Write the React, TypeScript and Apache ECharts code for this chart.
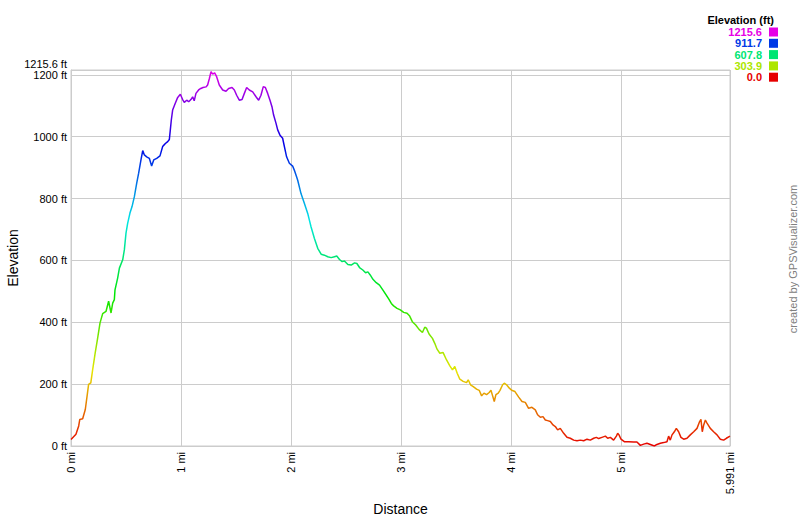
import React, { useEffect, useRef } from 'react';
import * as echarts from 'echarts';

// Distance along the track (mi)
const distances = [
  0, 0.045, 0.07, 0.08, 0.106, 0.13, 0.15, 0.16, 0.18, 0.197, 0.22, 0.24, 0.264, 0.288, 0.318, 0.342,
  0.364, 0.379, 0.394, 0.4, 0.424, 0.44, 0.47, 0.485, 0.5, 0.515, 0.536, 0.555, 0.576, 0.597, 0.615,
  0.636, 0.652, 0.667, 0.688, 0.712, 0.733, 0.752, 0.779, 0.809, 0.833, 0.858, 0.879, 0.894, 0.903,
  0.912, 0.924, 0.948, 0.97, 0.994, 1.015, 1.03, 1.052, 1.07, 1.09, 1.106, 1.12, 1.136, 1.16, 1.18,
  1.2, 1.227, 1.242, 1.258, 1.273, 1.288, 1.306, 1.324, 1.348, 1.379, 1.409, 1.433, 1.464, 1.485,
  1.506, 1.53, 1.555, 1.576, 1.597, 1.621, 1.652, 1.682, 1.706, 1.727, 1.748, 1.767, 1.788, 1.809,
  1.827, 1.842, 1.864, 1.879, 1.9, 1.924, 1.94, 1.96, 1.985, 2.015, 2.03, 2.05,
  2.061, 2.091, 2.122, 2.152, 2.182, 2.213, 2.243, 2.274, 2.304, 2.334, 2.365, 2.395, 2.416, 2.441,
  2.465, 2.486, 2.517, 2.547, 2.578, 2.599, 2.623, 2.653, 2.678, 2.699, 2.72, 2.745, 2.775, 2.805,
  2.836, 2.866, 2.891, 2.912, 2.933, 2.964, 2.994, 3.024, 3.055, 3.079, 3.103, 3.134, 3.164, 3.195,
  3.216, 3.231, 3.255, 3.286, 3.307, 3.328, 3.353, 3.383, 3.413, 3.444, 3.468, 3.489, 3.511, 3.535,
  3.565, 3.596, 3.611, 3.632, 3.657, 3.687, 3.711, 3.733, 3.754, 3.778, 3.802, 3.818, 3.833, 3.848,
  3.863, 3.884, 3.9, 3.924, 3.939, 3.96, 3.985, 4.006, 4.036,
  4.07, 4.1, 4.13, 4.16, 4.19, 4.221, 4.242, 4.267, 4.291, 4.312, 4.333, 4.358, 4.382, 4.403, 4.424,
  4.448, 4.479, 4.509, 4.539, 4.57, 4.6, 4.63, 4.661, 4.691, 4.721, 4.752, 4.776, 4.797, 4.827, 4.858,
  4.879, 4.903, 4.933, 4.958, 4.97, 4.982, 5.0, 5.03, 5.07, 5.115, 5.145, 5.176, 5.206, 5.236, 5.267,
  5.303, 5.327, 5.358, 5.388, 5.418, 5.433, 5.448, 5.464, 5.485, 5.503, 5.524, 5.545, 5.57, 5.6, 5.63,
  5.661, 5.691, 5.715, 5.727, 5.739, 5.752, 5.767, 5.782, 5.812, 5.842, 5.873, 5.903, 5.933, 5.958,
  5.991,
];

// Elevation (ft)
const elevations = [
  21, 38, 65, 86, 88, 118, 172, 199, 204, 247, 301, 344, 398, 428, 435, 468,
  430, 462, 473, 505, 543, 575, 602, 634, 688, 720, 753, 774, 806, 849, 882,
  925, 955, 941, 935, 930, 905, 925, 930, 938, 968, 978, 984, 991, 1022,
  1054, 1086, 1108, 1127, 1137, 1120, 1111, 1118, 1113, 1120, 1129, 1116, 1140, 1151, 1156,
  1159, 1161, 1167, 1188, 1210, 1202, 1206, 1194, 1167, 1151, 1147, 1156, 1159, 1151,
  1134, 1118, 1120, 1140, 1159, 1151, 1145, 1129, 1118, 1134, 1162, 1159, 1140, 1118,
  1097, 1070, 1043, 1022, 1005, 995, 968, 935, 914, 905, 892, 871,
  859, 816, 784, 752, 709, 671, 639, 620, 617, 612, 609, 612, 614, 603,
  596, 598, 587, 585, 592, 590, 577, 569, 560, 563, 553, 539, 528, 520,
  504, 488, 474, 461, 453, 445, 440, 432, 429, 420, 402, 391, 377, 367,
  384, 381, 362, 348, 332, 313, 300, 302, 279, 259, 246, 257, 235, 216,
  209, 205, 214, 198, 192, 184, 180, 162, 171, 166, 173, 180, 162, 144,
  166, 171, 180, 198, 203, 198, 187, 180, 176,
  158, 144, 141, 122, 125, 117, 101, 93, 95, 84, 82, 79, 68, 63, 52,
  57, 41, 28, 25, 19, 17, 19, 17, 22, 19, 25, 28, 24, 28, 32,
  25, 28, 19, 32, 41, 36, 22, 14, 14, 13, 13, 2, 6, 9, 5,
  0, 5, 9, 11, 14, 32, 19, 36, 46, 57, 46, 28, 22, 25, 36,
  46, 57, 79, 86, 46, 68, 84, 74, 57, 46, 36, 22, 19, 25,
  32,
];

const legendValues = [1215.6, 911.7, 607.8, 303.9, 0.0];
const legendColors = ['#e600e6', '#0039e6', '#00e673', '#ace600', '#e60000'];
const hueColors = [
  '#e60000', '#e67300', '#e6e600', '#73e600', '#00e600', '#00e673',
  '#00e6e6', '#0073e6', '#0000e6', '#7300e6', '#e600e6',
];
const elevMin = 0;
const elevMax = 1215.6;
const distMax = 5.991;

export default function App() {
  const ref = useRef<HTMLDivElement>(null);
  useEffect(() => {
    document.body.style.margin = '0';
    const chart = echarts.init(ref.current!, null, { renderer: 'svg' });
    const font = '"Liberation Sans", Arial, sans-serif';
    const data = distances.map((d, i) => [d, elevations[i]]);

    const gfx: any[] = [
      {
        type: 'text',
        x: 774,
        y: 20,
        style: {
          text: 'Elevation (ft)',
          font: `bold 11px ${font}`,
          fill: '#000',
          align: 'right',
          verticalAlign: 'middle',
        },
      },
      {
        type: 'text',
        x: 67,
        y: 64,
        style: {
          text: `${elevMax} ft`,
          font: `11px ${font}`,
          fill: '#000',
          align: 'right',
          verticalAlign: 'middle',
        },
      },
    ];
    legendValues.forEach((v, i) => {
      const cy = 32 + i * 11.3;
      gfx.push({
        type: 'text',
        x: 762,
        y: cy,
        style: {
          text: v.toFixed(1),
          font: `bold 11px ${font}`,
          fill: legendColors[i],
          align: 'right',
          verticalAlign: 'middle',
        },
      });
      gfx.push({
        type: 'rect',
        shape: { x: 769, y: cy - 4.5, width: 9, height: 9 },
        style: { fill: legendColors[i] },
      });
    });
    gfx.push({
      type: 'text',
      x: 793,
      y: 259,
      rotation: Math.PI / 2,
      style: {
        text: 'created by GPSVisualizer.com',
        font: `11px ${font}`,
        fill: '#808080',
        align: 'center',
        verticalAlign: 'middle',
      },
    });

    chart.setOption({
      animation: false,
      backgroundColor: '#fff',
      grid: {
        left: 71,
        right: 70,
        top: 70,
        bottom: 71,
        containLabel: false,
        outerBoundsMode: 'none',
        show: true,
        borderColor: '#cccccc',
        borderWidth: 1,
      },
      visualMap: {
        show: false,
        type: 'continuous',
        dimension: 1,
        min: elevMin,
        max: elevMax,
        inRange: { color: hueColors },
      },
      xAxis: {
        type: 'value',
        min: 0,
        max: distMax,
        interval: 1,
        name: 'Distance',
        nameLocation: 'middle',
        nameGap: 49,
        nameTextStyle: { fontSize: 14, color: '#000', fontFamily: font },
        axisLine: { lineStyle: { color: '#cccccc' } },
        axisTick: { show: false },
        axisLabel: {
          rotate: 90,
          margin: 6,
          fontSize: 11,
          color: '#000',
          fontFamily: font,
          showMaxLabel: true,
          formatter: (v: number) => `${v} mi`,
        },
        splitLine: { show: true, lineStyle: { color: '#cccccc' } },
      },
      yAxis: {
        type: 'value',
        min: 0,
        max: elevMax,
        interval: 200,
        name: 'Elevation',
        nameLocation: 'middle',
        nameGap: 51,
        nameTextStyle: { fontSize: 14, color: '#000', fontFamily: font },
        axisLine: { show: true, lineStyle: { color: '#cccccc' } },
        axisTick: { show: false },
        axisLabel: {
          margin: 4,
          fontSize: 11,
          color: '#000',
          fontFamily: font,
          showMaxLabel: false,
          formatter: (v: number) => (v === elevMax ? '' : `${v} ft`),
        },
        splitLine: { show: true, lineStyle: { color: '#cccccc' } },
      },
      series: [
        {
          type: 'line',
          data,
          showSymbol: false,
          symbol: 'none',
          lineStyle: { width: 1.5 },
        },
      ],
      graphic: gfx,
    });
    return () => chart.dispose();
  }, []);
  return <div ref={ref} style={{ width: 800, height: 517 }} />;
}
